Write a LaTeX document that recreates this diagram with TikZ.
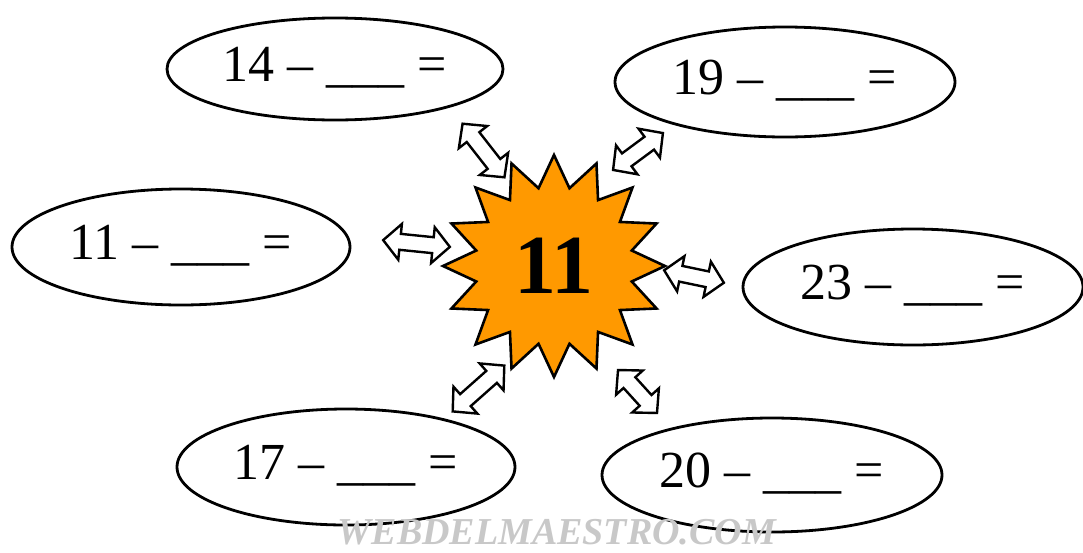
\documentclass[tikz,border=0pt]{standalone}
\usepackage{fontspec}
\setmainfont{Liberation Serif}
\usetikzlibrary{shapes.geometric}
\definecolor{starorange}{RGB}{255,153,0}
\definecolor{wmgray}{RGB}{200,200,200}
\newcommand{\blnk}{\textunderscore\textunderscore\textunderscore}
\tikzset{
  eq/.style={draw, ellipse, line width=2.8pt, inner sep=0pt, minimum width=340pt,
    minimum height=112pt, font=\fontsize{52}{52}\selectfont, text height=36pt, text depth=12pt},
  arrowline/.style={draw, fill=white, line width=2.4pt, line join=miter},
  sunstar/.style={draw, star, star points=16, star point ratio=1.4, minimum size=222pt,
    inner sep=0pt, line width=2.6pt, fill=starorange, font=\fontsize{84}{84}\selectfont\bfseries},
  watermark/.style={text=wmgray, font=\fontsize{38}{38}\selectfont\bfseries\itshape, anchor=base, inner sep=0pt}
}
% #1 name, #2 x, #3 y, #4 angle, #5 half length
\newcommand{\dblarr}[5]{%
  \begin{scope}[shift={(#2,#3)}, rotate=#4]
    \coordinate (#1) at (0,0);
    \path[arrowline] (-#5,0) -- (-#5+17,18) -- (-#5+17,8) -- (#5-17,8) -- (#5-17,18)
      -- (#5,0) -- (#5-17,-18) -- (#5-17,-8) -- (-#5+17,-8) -- (-#5+17,-18) -- cycle;
  \end{scope}}
\begin{document}
\begin{tikzpicture}[x=1pt,y=-1pt]
\useasboundingbox (0,0) rectangle (1083,552);
\fill[white] (0,0) rectangle (1083,552);
% ellipses
\node[eq, minimum width=336pt, minimum height=102pt] (e14) at (335,69) {14 – \blnk{} =};
\node[eq, minimum width=340pt, minimum height=110pt] (e19) at (785,82) {19 – \blnk{} =};
\node[eq, minimum width=338pt, minimum height=116pt] (e11) at (181,247) {11 – \blnk{} =};
\node[eq, minimum width=340pt, minimum height=116pt] (e23) at (913,287) {23 – \blnk{} =};
\node[eq, minimum width=338pt, minimum height=116pt] (e17) at (346,467) {17 – \blnk{} =};
\node[eq, minimum width=340pt, minimum height=114pt] (e20) at (772,475) {20 – \blnk{} =};
% star
\node[sunstar] (star) at (554,266) {11};
% arrows
\dblarr{a14}{483.5}{150.5}{-52}{34}
\dblarr{a19}{638}{151.5}{36.5}{31}
\dblarr{a11}{416.5}{243.5}{-5.8}{33.5}
\dblarr{a23}{694}{276.5}{-11.8}{30.5}
\dblarr{a17}{478.5}{388.5}{41.6}{34.5}
\dblarr{a20}{637.5}{391.5}{-47.8}{29}
% watermark
\node[watermark] (wm) at (557,544) {WEBDELMAESTRO.COM};
\end{tikzpicture}
\end{document}
